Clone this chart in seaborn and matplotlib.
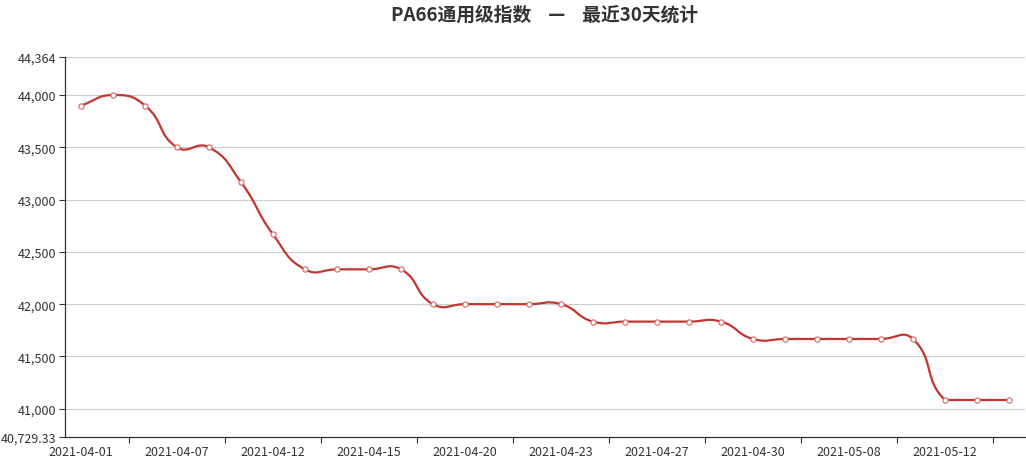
import numpy as np
import pandas as pd
import seaborn as sns
import matplotlib.pyplot as plt
from matplotlib.path import Path
from matplotlib.patches import PathPatch
from matplotlib.ticker import FixedLocator, FuncFormatter

dates = ["2021-04-01", "2021-04-02", "2021-04-06", "2021-04-07", "2021-04-08",
         "2021-04-09", "2021-04-12", "2021-04-13", "2021-04-14", "2021-04-15",
         "2021-04-16", "2021-04-19", "2021-04-20", "2021-04-21", "2021-04-22",
         "2021-04-23", "2021-04-25", "2021-04-26", "2021-04-27", "2021-04-28",
         "2021-04-29", "2021-04-30", "2021-05-06", "2021-05-07", "2021-05-08",
         "2021-05-10", "2021-05-11", "2021-05-12", "2021-05-13", "2021-05-14"]
prices = [43900, 44000, 43900, 43500, 43500, 43167, 42667, 42333, 42333, 42333,
          42333, 42000, 42000, 42000, 42000, 42000, 41833, 41833, 41833, 41833,
          41833, 41667, 41667, 41667, 41667, 41667, 41667, 41083.33, 41083.33, 41083.33]
y_ticks = [40729.33, 41000, 41500, 42000, 42500, 43000, 43500, 44000, 44364]

df = pd.DataFrame({"date": dates, "price": prices})
df["idx"] = np.arange(len(df))

sns.set_theme(style="white")
plt.rcParams['font.family'] = ['Noto Sans CJK SC', 'DejaVu Sans']

fig = plt.figure(figsize=(10.26, 4.64), dpi=100)
ax = fig.add_axes([65 / 1026, 26 / 464, 960 / 1026, 380 / 464])

ax.set_xlim(-0.5, len(dates) - 0.5)
ax.set_ylim(y_ticks[0], y_ticks[-1])

# smooth line like echarts (bezier control points from neighbours,
# clamped to the data's bounding box)
sx = 960 / len(dates)
sy = 380 / (y_ticks[-1] - y_ticks[0])
pts = df[["idx", "price"]].to_numpy(dtype=float)
lo, hi = pts.min(axis=0), pts.max(axis=0)
n = len(pts)
cp_in, cp_out = [], []
for i in range(n):
    p = pts[i]
    prev = pts[i - 1] if i > 0 else p
    nxt = pts[i + 1] if i < n - 1 else p
    v = (nxt - prev) * 0.5
    d0 = np.hypot((p[0] - prev[0]) * sx, (p[1] - prev[1]) * sy)
    d1 = np.hypot((p[0] - nxt[0]) * sx, (p[1] - nxt[1]) * sy)
    s = d0 + d1
    if s > 0:
        d0, d1 = d0 / s, d1 / s
    cp_in.append(np.clip(p - v * d0, lo, hi))
    cp_out.append(np.clip(p + v * d1, lo, hi))
verts = [pts[0]]
codes = [Path.MOVETO]
for i in range(n - 1):
    verts += [cp_out[i], cp_in[i + 1], pts[i + 1]]
    codes += [Path.CURVE4] * 3
ax.add_patch(PathPatch(Path(verts, codes), facecolor="none", edgecolor="#c23531",
                       lw=1.6, zorder=3))

sns.scatterplot(data=df, x="idx", y="price", ax=ax, marker="o", s=14,
                facecolor="white", edgecolor="#d9635f", linewidth=0.8, zorder=4)

# grid
for t in y_ticks[1:]:
    ax.axhline(t, color="#cccccc", lw=0.8, zorder=1)

ax.set_yticks(y_ticks)
ax.yaxis.set_major_formatter(FuncFormatter(
    lambda v, _: f"{v:,.2f}" if abs(v - round(v)) > 0.001 else f"{v:,.0f}"))
ax.set_xticks(np.arange(0, n, 3))
ax.set_xticklabels(dates[::3])
ax.xaxis.set_minor_locator(FixedLocator(np.arange(1.5, n, 3)))

ax.tick_params(axis="y", which="major", length=4, width=0.8, color="#333333",
               labelsize=9, labelcolor="#333333", pad=2, left=True)
ax.tick_params(axis="x", which="major", length=0, labelsize=9,
               labelcolor="#333333", pad=6, bottom=True)
ax.tick_params(axis="x", which="minor", length=4, width=0.8, color="#333333",
               bottom=True)

for side in ["top", "right"]:
    ax.spines[side].set_visible(False)
for side in ["left", "bottom"]:
    ax.spines[side].set_color("#333333")
    ax.spines[side].set_linewidth(0.9)

ax.set_xlabel("")
ax.set_ylabel("")
fig.text(545 / 1026, 1 - 15 / 464, "PA66通用级指数    —    最近30天统计",
         ha="center", va="center", fontsize=13.5, fontweight="bold", color="#333333")

fig.savefig("out.png", dpi=100)
